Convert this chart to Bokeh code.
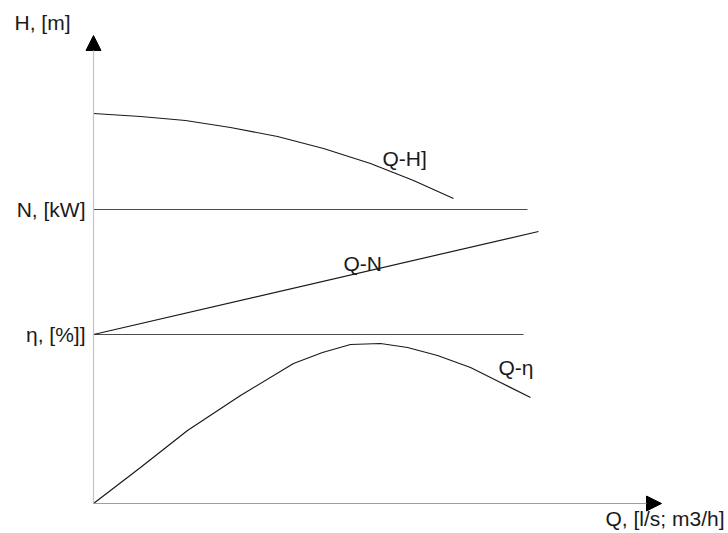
from bokeh.plotting import figure
from bokeh.models import Range1d, Arrow, NormalHead, ColumnDataSource
from bokeh.core.properties import value
from bokeh.embed import file_html
from bokeh.resources import INLINE

# ---- data (schematic units; origin at axis crossing) ----
qh_q = [0, 47, 92, 137, 184, 230, 277, 320, 360]
qh_h = [390, 387, 383, 376, 367, 355, 340, 323, 305]

qn_q = [0, 445]
qn_n = [169, 272]

qe_q = [0, 47, 94, 147, 200, 229, 257, 287, 314, 344, 377, 407, 437]
qe_e = [0, 36, 73, 108, 140, 151, 159, 160, 156, 148, 136, 121, 106]

n_level = 294
n_level_end = 434
eta_level = 169
eta_level_end = 430

x_axis_end = 568
y_axis_end = 468

axis_labels = ["H, [m]", "N, [kW]", "η, [%]]", "Q, [l/s; m3/h]"]
axis_label_x = [-79, -8, -8, 512]
axis_label_y = [481, 294, 169, -15]
axis_label_align = ["left", "right", "right", "left"]

curve_labels = ["Q-H]", "Q-N", "Q-η"]
curve_label_x = [289, 250, 405]
curve_label_y = [345, 240, 136]

FONT = "Liberation Sans"

p = figure(width=726, height=531, output_backend="svg", toolbar_location=None,
           x_range=Range1d(-93, 633), y_range=Range1d(-28, 503),
           x_axis_type=None, y_axis_type=None, min_border=0)
p.grid.visible = False
p.outline_line_color = None
p.background_fill_color = "white"
p.border_fill_color = "white"

# axes with arrow heads
p.add_layout(Arrow(x_start=0, y_start=0, x_end=0, y_end=y_axis_end,
                   line_color="#c4c4c4", line_width=1.2,
                   end=NormalHead(size=15, fill_color="black", line_color="black", line_width=1)))
p.add_layout(Arrow(x_start=0, y_start=0, x_end=x_axis_end, y_end=0,
                   line_color="#a0a0a0", line_width=1.2,
                   end=NormalHead(size=15, fill_color="black", line_color="black", line_width=1)))

# level lines
p.segment(x0=[0, 0], y0=[n_level, eta_level], x1=[n_level_end, eta_level_end],
          y1=[n_level, eta_level], line_color="#4a4a4a", line_width=1.2)

# curves
p.line(qh_q, qh_h, line_color="#1a1a1a", line_width=1.2)
p.line(qn_q, qn_n, line_color="#1a1a1a", line_width=1.2)
p.line(qe_q, qe_e, line_color="#1a1a1a", line_width=1.2)

# labels
src_ax = ColumnDataSource(dict(x=axis_label_x, y=axis_label_y, t=axis_labels, a=axis_label_align))
p.text(x="x", y="y", text="t", text_align="a", source=src_ax, text_baseline="middle",
       text_font=value(FONT), text_font_size="21px", text_color="#1a1a1a")
src_cv = ColumnDataSource(dict(x=curve_label_x, y=curve_label_y, t=curve_labels))
p.text(x="x", y="y", text="t", source=src_cv, text_baseline="middle", text_align="left",
       text_font=value(FONT), text_font_size="21px", text_color="#1a1a1a")

open("out.html", "w").write(file_html(p, INLINE))
